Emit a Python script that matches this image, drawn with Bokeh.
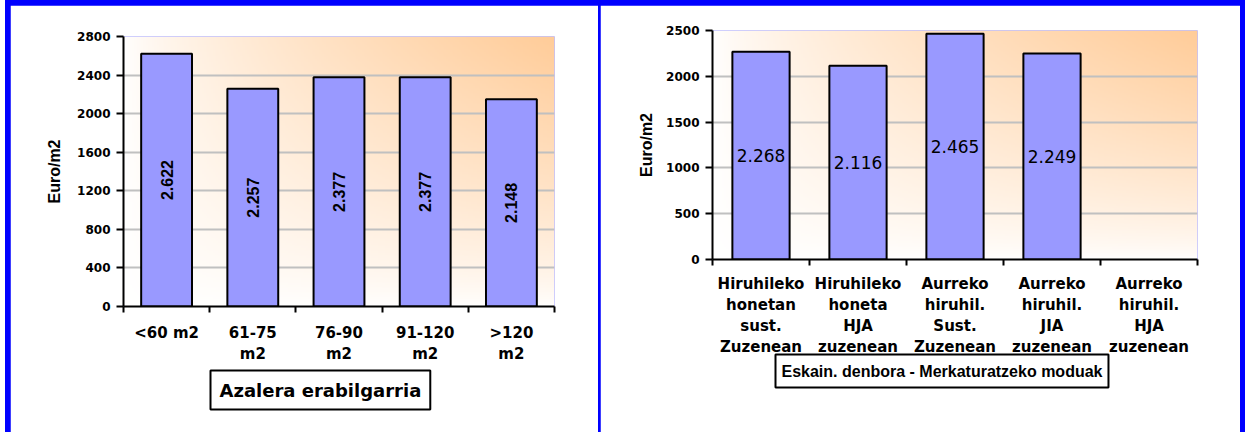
import math
import numpy as np
from bokeh.plotting import figure
from bokeh.layouts import row
from bokeh.models import (ColumnDataSource, FactorRange, Range1d, LinearAxis,
                          FixedTicker, Title)
from bokeh.core.properties import value
from bokeh.embed import file_html
from bokeh.resources import INLINE

# ---------------- data ----------------
left_categories = ["<60 m2", "61-75\nm2", "76-90\nm2", "91-120\nm2", ">120\nm2"]
left_values = [2622, 2257, 2377, 2377, 2148]
left_ticks = [0, 400, 800, 1200, 1600, 2000, 2400, 2800]
left_title = "Azalera erabilgarria"

right_categories = ["Hiruhileko\nhonetan\nsust.\nZuzenean",
                    "Hiruhileko\nhoneta\nHJA\nzuzenean",
                    "Aurreko\nhiruhil.\nSust.\nZuzenean",
                    "Aurreko\nhiruhil.\nJIA\nzuzenean",
                    "Aurreko\nhiruhil.\nHJA\nzuzenean"]
right_values = [2268, 2116, 2465, 2249, None]
right_ticks = [0, 500, 1000, 1500, 2000, 2500]
right_title = "Eskain. denbora - Merkaturatzeko moduak"

y_title = "Euro/m2"

BAR_FILL = "#9999FF"
GRID = "#C0C0C0"


def fmt(v):
    return f"{v:,}".replace(",", ".")


def gradient(nx=240, ny=160):
    u = np.linspace(0, 1, nx)[None, :]
    v = np.linspace(0, 1, ny)[:, None]
    t = (u * v) ** 0.7
    img = np.empty((ny, nx), dtype=np.uint32)
    view = img.view(dtype=np.uint8).reshape((ny, nx, 4))
    view[..., 0] = 255
    view[..., 1] = np.round(255 - (255 - 204) * t).astype(np.uint8)
    view[..., 2] = np.round(255 - (255 - 153) * t).astype(np.uint8)
    view[..., 3] = 255
    return img


def build(cats, vals, yticks, width, height, borders, ylab_standoff,
          xlab_standoff, xlab_line_height, bar_label, title, title_offset,
          title_standoff, title_valign, title_font, title_size, title_pad):
    ymax = yticks[-1]
    left, right, top, bottom = borders
    p = figure(x_range=FactorRange(*cats), y_range=Range1d(0, ymax),
               width=width, height=height, output_backend="svg",
               toolbar_location=None, min_border_left=left,
               min_border_right=right, min_border_top=top,
               min_border_bottom=bottom)
    p.frame_align = False
    p.outline_line_color = None
    p.background_fill_color = "white"
    p.border_fill_color = "white"

    p.image_rgba(image=[gradient()], x=0, y=0, dw=len(cats), dh=ymax,
                 level="image")

    xs = [c for c, v in zip(cats, vals) if v is not None]
    tops = [v for v in vals if v is not None]
    src = ColumnDataSource(dict(x=xs, top=tops, mid=[t / 2 for t in tops],
                                label=[fmt(t) for t in tops]))
    p.vbar(x="x", top="top", width=0.59, source=src, fill_color=BAR_FILL,
           line_color="black", line_width=2)
    p.text(x="x", y="mid", text="label", source=src, angle=bar_label["angle"],
           text_align="center", text_baseline="middle",
           text_font=value(bar_label["font"]),
           text_font_size=value(bar_label["size"]),
           text_font_style=bar_label["style"], text_color="black")

    # grid
    p.xgrid.grid_line_color = None
    p.ygrid.grid_line_color = GRID
    p.ygrid.grid_line_width = 2

    # y axis
    ya = p.yaxis[0]
    ya.ticker = FixedTicker(ticks=yticks)
    ya.axis_line_width = 2
    ya.axis_line_color = "black"
    ya.major_tick_line_width = 2
    ya.major_tick_out = 7
    ya.major_tick_in = 0
    ya.minor_tick_line_color = None
    ya.major_label_standoff = 6
    ya.major_label_text_font = "DejaVu Sans"
    ya.major_label_text_font_size = "12px"
    ya.major_label_text_font_style = "bold"
    ya.major_label_text_color = "black"
    ya.axis_label = y_title
    ya.axis_label_text_font = "Liberation Sans"
    ya.axis_label_text_font_size = "16px"
    ya.axis_label_text_font_style = "bold"
    ya.axis_label_text_color = "black"
    ya.axis_label_standoff = ylab_standoff

    # x axis: category labels
    xa = p.xaxis[0]
    xa.axis_line_color = None
    xa.major_tick_line_color = None
    xa.minor_tick_line_color = None
    xa.major_label_standoff = xlab_standoff
    xa.major_label_text_font = "DejaVu Sans"
    xa.major_label_text_font_size = "15px"
    xa.major_label_text_font_style = "bold"
    xa.major_label_text_color = "black"
    xa.major_label_text_line_height = xlab_line_height

    # x axis: boundary ticks
    tick_axis = LinearAxis(ticker=FixedTicker(ticks=list(range(len(cats) + 1))),
                           axis_line_width=2, axis_line_color="black",
                           major_tick_line_width=2, major_tick_out=6,
                           major_tick_in=0, minor_tick_line_color=None,
                           major_label_text_font_size="0px",
                           major_label_text_alpha=0,
                           major_label_standoff=0)
    p.below = [tick_axis] + list(p.below)

    p.add_layout(Title(text=title, align="left", offset=title_offset,
                       standoff=title_standoff, vertical_align=title_valign,
                       text_font=title_font,
                       text_font_size=title_size, text_font_style="bold",
                       text_color="black", border_line_color="black",
                       border_line_width=2, background_fill_color="white",
                       padding=title_pad), "below")
    return p


p1 = build(left_categories, left_values, left_ticks, 588, 427,
           (113, 44, 31, 126), 11, 5, 1.2,
           dict(angle=math.pi / 2, font="Liberation Sans", size="16px",
                style="bold"),
           left_title, 87, 4, "bottom", "DejaVu Sans", "18px", (9, 9))
p1.margin = (5, 2, 0, 5)

p2 = build(right_categories, right_values, right_ticks, 640, 427,
           (112, 43, 25, 173), 8, 3, 1.17,
           dict(angle=0, font="DejaVu Sans", size="17px", style="normal"),
           right_title, 63, -8, "top", "Liberation Sans", "16px", (6, 8))
p2.margin = (5, 5, 0, 0)

layout = row(p1, p2, margin=(0, 0, 0, 5),
             styles={"background-color": "#0000FF"})

open("out.html", "w").write(file_html(layout, INLINE))
